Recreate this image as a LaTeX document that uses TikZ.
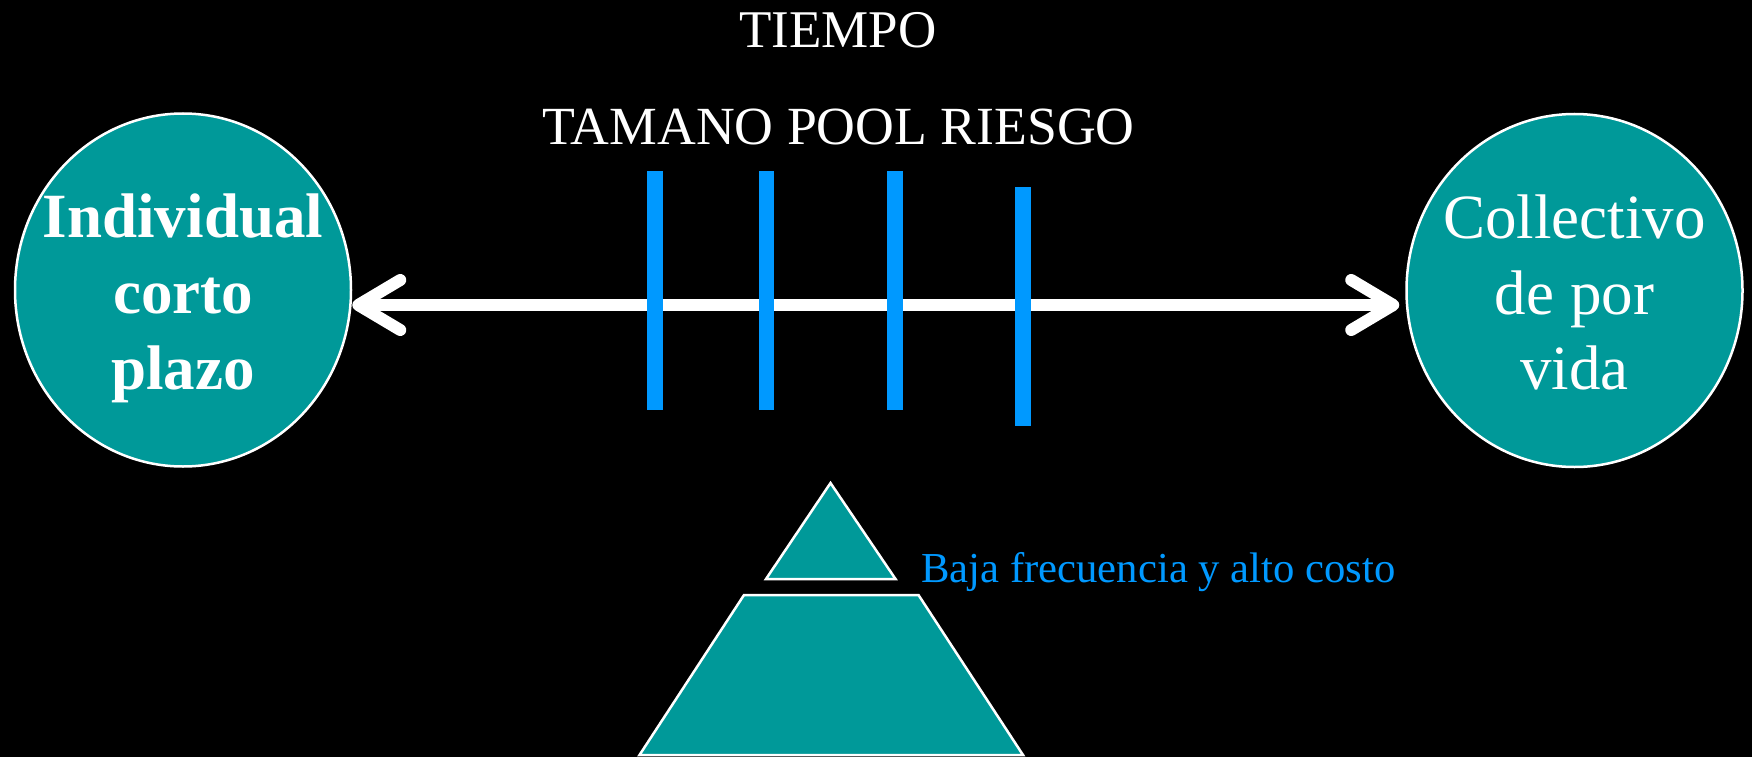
\documentclass[tikz,border=0pt]{standalone}
\usepackage{fontspec}
\setmainfont{Liberation Serif}
\usetikzlibrary{shapes.geometric,arrows.meta}
\definecolor{tealfill}{RGB}{0,153,153}
\definecolor{barblue}{RGB}{0,153,255}
\begin{document}
\begin{tikzpicture}[x=1pt,y=-1pt,
  bubble/.style={ellipse, draw=white, line width=2.5pt, fill=tealfill,
    minimum width=336pt, minimum height=353pt, inner sep=0pt},
  bubbletext/.style={align=center, text=white, inner sep=0pt},
  title/.style={anchor=base, text=white, inner sep=0pt},
  bar/.style={draw=barblue, line width=15.6pt},
  axisline/.style={draw=white, line width=12pt,
    {Straight Barb[length=42pt,width=50pt,line cap=round,line join=round]}-{Straight Barb[length=42pt,width=50pt,line cap=round,line join=round]}},
  block/.style={fill=tealfill, draw=white, line width=2.5pt, line join=miter}
]
\useasboundingbox[fill=black] (0,0) rectangle (1752,757);

% titles
\node[title, font=\fontsize{53}{60}\selectfont] (tiempo) at (838,47.7) {TIEMPO};
\node[title, font=\fontsize{53.7}{60}\selectfont] (pool) at (838.5,144) {TAMANO POOL RIESGO};

% circles
\node[bubble] (L) at (183,290) {};
\node[bubble] (R) at (1574.5,290.5) {};
\node[bubbletext, font=\fontsize{63}{76}\selectfont\bfseries] (Ltext) at (183,298.5) {Individual\\corto\\plazo};
\node[bubbletext, font=\fontsize{63}{75.5}\selectfont] (Rtext) at (1574.5,292.5) {Collectivo\\de por\\vida};

% axis
\coordinate (axis) at (0,305);
\draw[axisline, shorten >=6pt] (L.east |- axis) -- (R.west |- axis);

% bars
\coordinate (b1t) at (655,171);   \coordinate (b1b) at (655,410);
\coordinate (b2t) at (766.5,171); \coordinate (b2b) at (766.5,410);
\coordinate (b3t) at (895,171);   \coordinate (b3b) at (895,410);
\coordinate (b4t) at (1023,187);  \coordinate (b4b) at (1023,426);
\draw[bar] (b1t) -- (b1b);
\draw[bar] (b2t) -- (b2b);
\draw[bar] (b3t) -- (b3b);
\draw[bar] (b4t) -- (b4b);

% pyramid
\path[block] (830.5,483) -- (895.5,579) -- (766,579) -- cycle;
\path[block] (744,595) -- (918.5,595) -- (1023,755) -- (639.5,755) -- cycle;

\node[anchor=base west, text=barblue, inner sep=0pt, font=\fontsize{42.7}{50}\selectfont] (baja) at (921,582) {Baja frecuencia y alto costo};
\end{tikzpicture}
\end{document}
